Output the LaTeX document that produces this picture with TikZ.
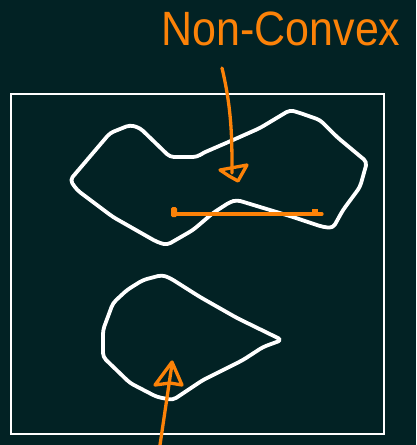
\documentclass[tikz,border=0pt]{standalone}
\usepackage{fontspec}
\setmainfont{Liberation Sans}
\definecolor{bg}{RGB}{2,34,36}
\definecolor{ink}{RGB}{252,130,8}
\tikzset{
  shapeline/.style={draw=white,line width=3.8pt,line join=round,line cap=round,rounded corners=4pt},
  orangeline/.style={draw=ink,line width=3.3pt,line join=round,line cap=round},
  framebox/.style={draw=white,line width=2.8pt},
}
\begin{document}
\begin{tikzpicture}[x=1pt,y=-1pt]
\fill[bg] (0,0) rectangle (416,445);
\useasboundingbox (0,0) rectangle (416,445);
% frame
\draw[framebox] (11,94) rectangle (384,434);
% title
\node[text=ink,font=\fontsize{43}{43}\selectfont,inner sep=0pt,yscale=1.12] (title) at (281,29) {Non-Convex};
% upper non-convex shape
\draw[shapeline] (70,180) -- (110,133) -- (130,125) -- (140,128) -- (170,157) -- (197,157) -- (203,153) -- (233,140) -- (260,128) -- (290,110) -- (300,113) -- (320,120) -- (337,137) -- (367,162) -- (360,187) -- (343,210) -- (333,228) -- (323,227) -- (293,217) -- (237,200) -- (230,202) -- (213,213) -- (193,230) -- (167,245) -- (157,242) -- (113,217) -- (77,190) -- cycle;
% lower convex shape
\draw[shapeline] (162,275) -- (170,278) -- (200,297) -- (237,318) -- (282,340) -- (263,347) -- (243,360) -- (203,380) -- (173,400) -- (157,397) -- (130,383) -- (103,357) -- (103,330) -- (113,303) -- (127,290) -- (143,280) -- cycle;
% upper arrow
\coordinate (a1) at (222,68);
\coordinate (a2) at (232,173);
\draw[orangeline] (a1) .. controls (232,110) and (232,140) .. (a2);
\draw[orangeline] (220,170) -- (247,165) -- (238,181) -- (229,176) -- cycle;
% segment inside the upper shape
\coordinate (s1) at (174,214);
\coordinate (s2) at (322,214);
\draw[orangeline] (s1) -- (s2);
\fill[ink, rounded corners=1.5pt] (171,207) rectangle (177,217);
\fill[ink] (312,209) rectangle (318,215);
% lower arrow
\coordinate (b1) at (160,445);
\coordinate (b2) at (172,364);
\draw[orangeline] (b1) -- (b2);
\draw[orangeline] (172,362) -- (182,385) -- (170,383) -- (155,385) -- cycle;
\end{tikzpicture}
\end{document}
